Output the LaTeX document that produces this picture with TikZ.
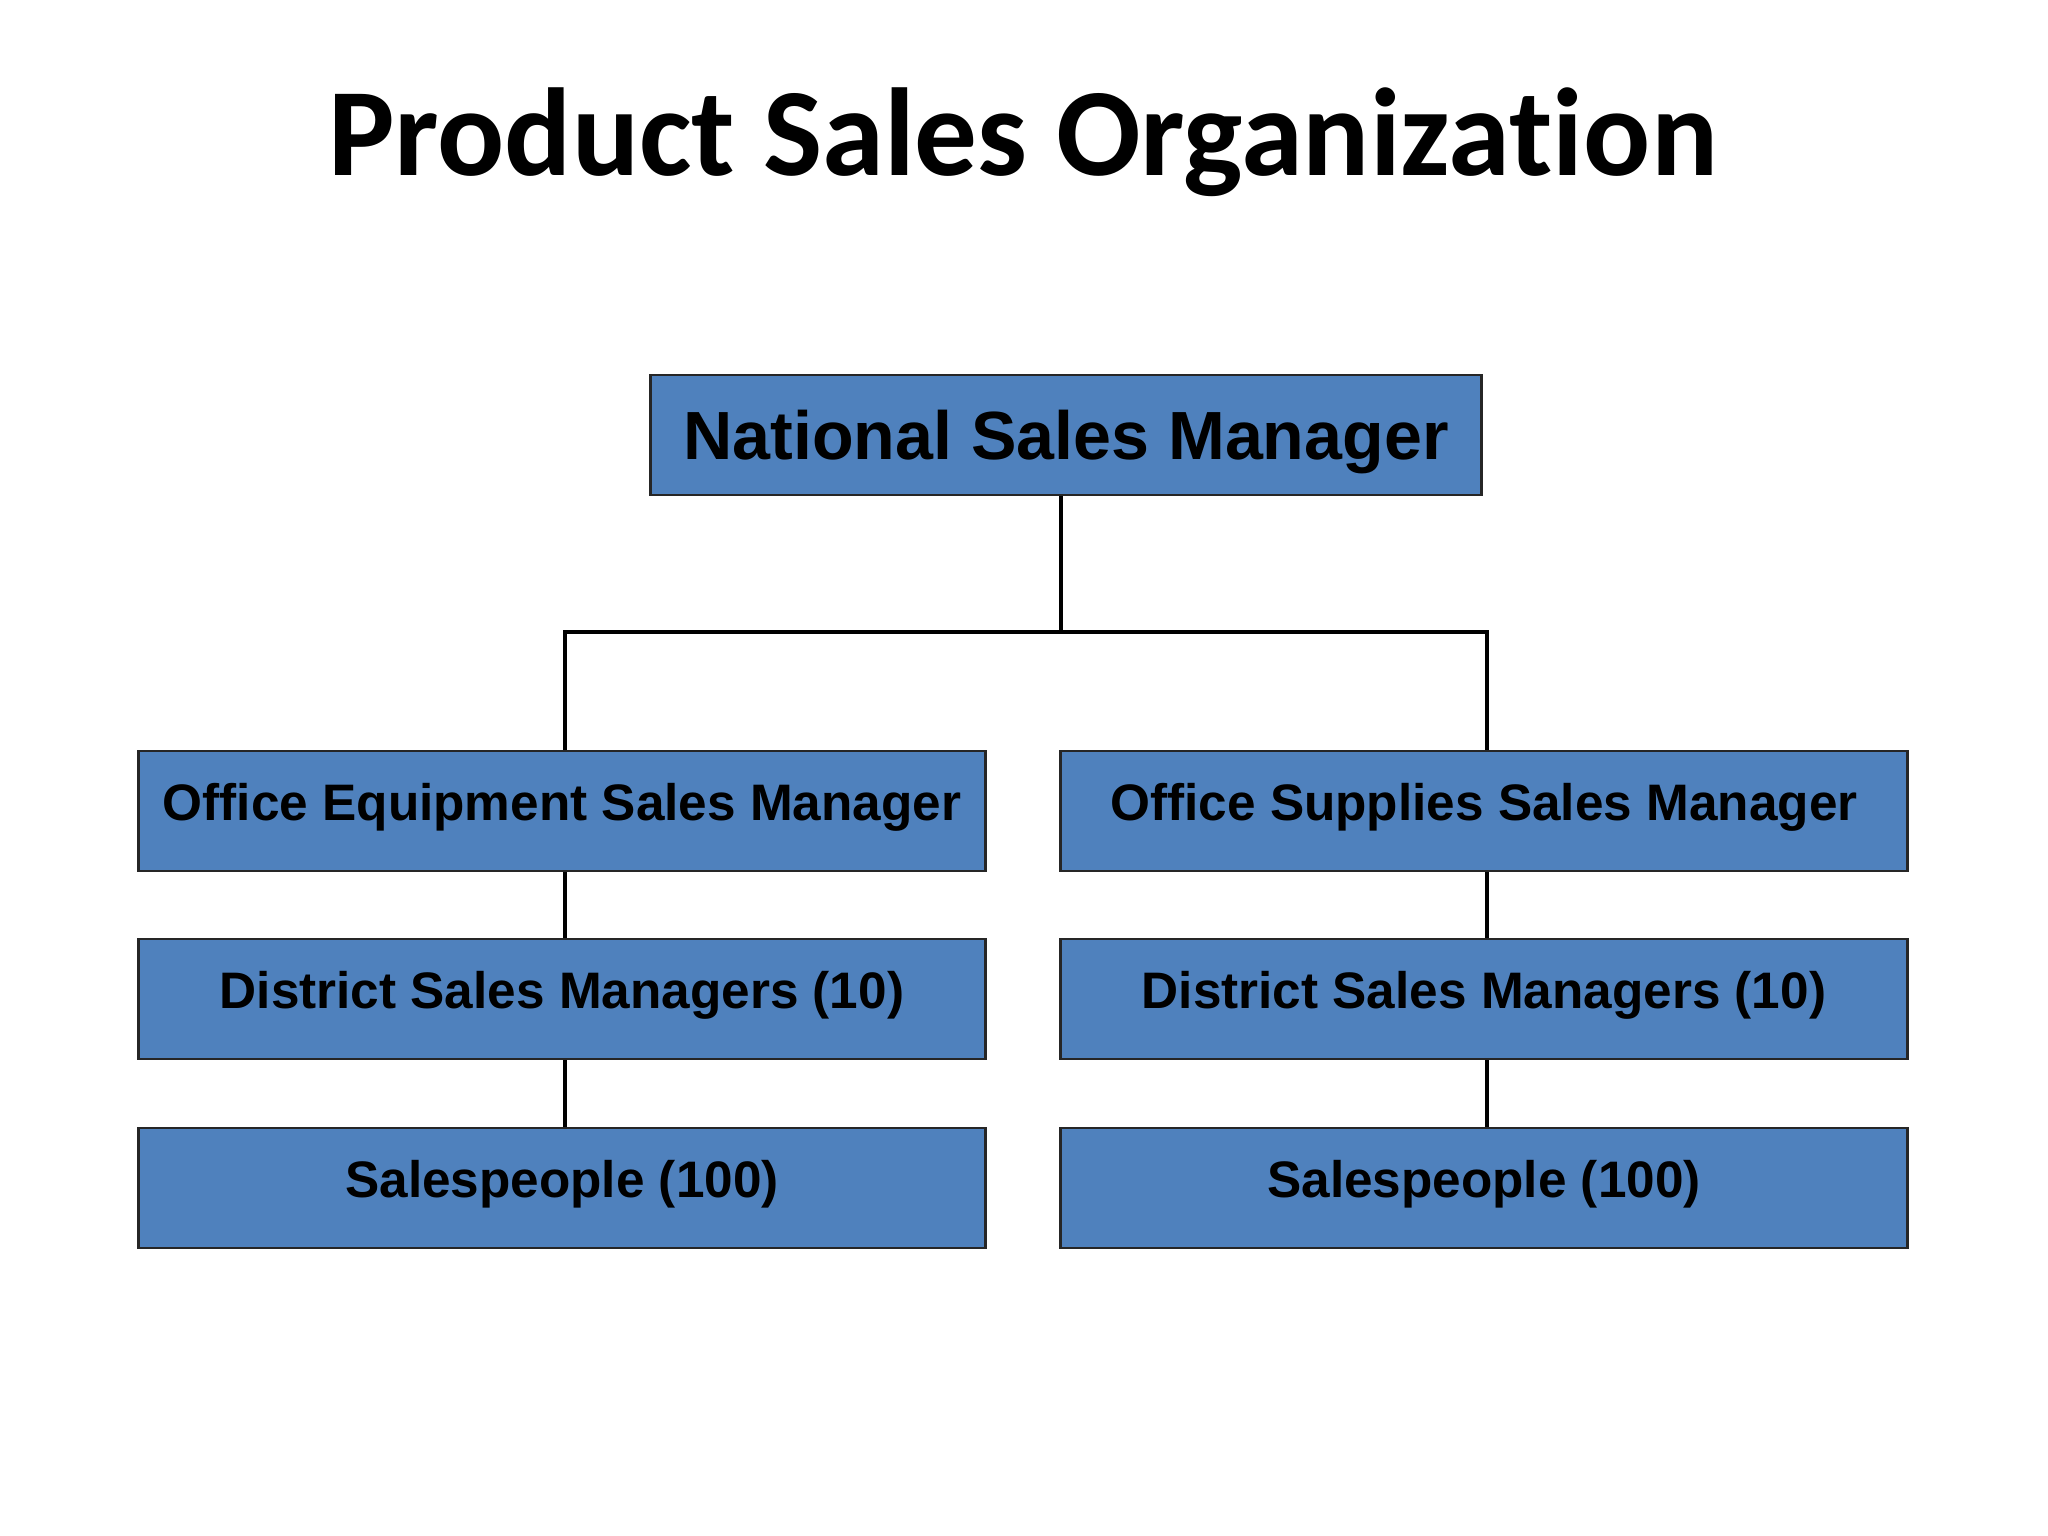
\documentclass[tikz,border=0pt]{standalone}
\usepackage{fontspec}
\setmainfont{Liberation Sans}
\newfontfamily\titlefont[Ligatures=NoCommon]{Carlito}
\definecolor{boxblue}{HTML}{4F81BD}
\begin{document}
\begin{tikzpicture}[
    box/.style={draw=black!85, line width=0.6pt, fill=boxblue, inner sep=0pt,
      minimum width=8.47cm, minimum height=1.2cm,
      font=\bfseries\fontsize{14.6}{18}\selectfont, text height=0.4cm, text depth=0.22cm},
    link/.style={line width=1.2pt}]
  \useasboundingbox (0,0) rectangle (20.48,-15.36);
  \node[anchor=base, font=\titlefont\bfseries\fontsize{35.6}{42}\selectfont] (title) at (10.23,-1.76) {Product Sales Organization};
  \node[box, minimum width=8.31cm, font=\bfseries\fontsize{19.4}{24}\selectfont, text height=0.5cm, text depth=0cm] (nsm) at (10.66,-4.35) {National Sales Manager};
  \node[box] (oesm) at (5.62,-8.11) {Office Equipment Sales Manager};
  \node[box] (oedsm) at (5.62,-9.99) {District Sales Managers (10)};
  \node[box] (oesp) at (5.62,-11.88) {Salespeople (100)};
  \node[box] (ossm) at (14.84,-8.11) {Office Supplies Sales Manager};
  \node[box] (osdsm) at (14.84,-9.99) {District Sales Managers (10)};
  \node[box] (ossp) at (14.84,-11.88) {Salespeople (100)};
  \draw[link] ([xshift=-0.05cm]nsm.south) -- ++(0,-1.36) coordinate (hub);
  \draw[link] ([xshift=0.03cm]oesm.north) |- (hub) -| ([xshift=0.03cm]ossm.north);
  \draw[link] ([xshift=0.03cm]oesm.south) -- ([xshift=0.03cm]oedsm.north);
  \draw[link] ([xshift=0.03cm]oedsm.south) -- ([xshift=0.03cm]oesp.north);
  \draw[link] ([xshift=0.03cm]ossm.south) -- ([xshift=0.03cm]osdsm.north);
  \draw[link] ([xshift=0.03cm]osdsm.south) -- ([xshift=0.03cm]ossp.north);
\end{tikzpicture}
\end{document}
